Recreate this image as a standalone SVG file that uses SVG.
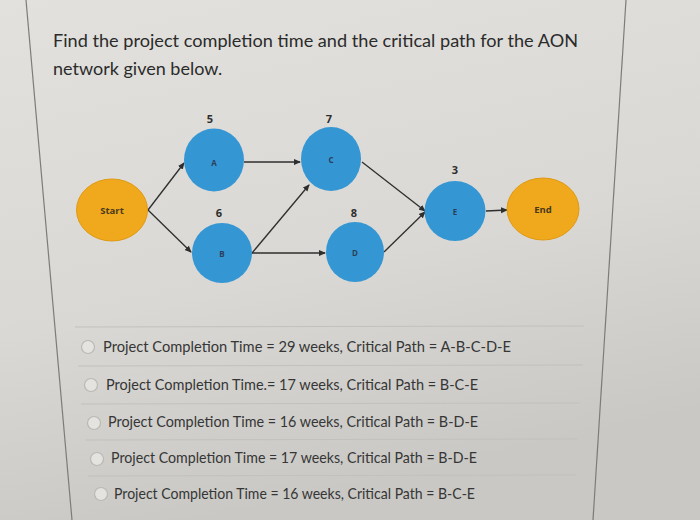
<svg xmlns="http://www.w3.org/2000/svg" width="700" height="520" viewBox="0 0 700 520">
<defs>
<linearGradient id="bg" x1="0" y1="0" x2="0.3" y2="1">
<stop offset="0" stop-color="#e2e1dd"/>
<stop offset="0.6" stop-color="#d9d8d4"/>
<stop offset="1" stop-color="#c9c8c4"/>
</linearGradient>
<marker id="arr" markerWidth="7" markerHeight="7" refX="6" refY="3.5" orient="auto" markerUnits="userSpaceOnUse">
<path d="M0,0.5 L7,3.5 L0,6.5 Z" fill="#2e2e2e"/>
</marker>
<style>
.title{font-family:Lato,"Liberation Sans",sans-serif;font-size:18px;fill:#2b2b2b}
.opt{font-family:Lato,"Liberation Sans",sans-serif;font-size:15px;fill:#363636}
.act{fill:#3596d4}
.term{fill:#f0a81c;stroke:#e09a14;stroke-width:1}
.lbl{font-family:"Open Sans","Liberation Sans",sans-serif;font-weight:bold;font-size:8px;fill:#2c3e5a;text-anchor:middle}
.tlbl{font-family:"Open Sans","Liberation Sans",sans-serif;font-weight:bold;font-size:9.5px;fill:#4a3a1e;text-anchor:middle}
.dur{font-family:"Open Sans","Liberation Sans",sans-serif;font-weight:bold;font-size:11px;fill:#2e2e2e;text-anchor:middle}
.edge{stroke:#2e2e2e;stroke-width:1.3;fill:none;marker-end:url(#arr)}
.sep{stroke:#c2c1bd;stroke-width:1}
.radio{fill:#e4e3df;stroke:#b9b8b4;stroke-width:1.2}
.border{stroke:#7d7c78;stroke-width:1.2;fill:none}
</style>
</defs>
<rect width="700" height="520" fill="url(#bg)"/>
<line class="border" x1="26" y1="0" x2="72" y2="520"/>
<line class="border" x1="626" y1="0" x2="593" y2="520"/>

<text class="title" x="53" y="47" textLength="525" lengthAdjust="spacingAndGlyphs">Find the project completion time and the critical path for the AON</text>
<text class="title" x="53" y="75">network given below.</text>

<g id="connectors">
<line class="edge" x1="148" y1="210" x2="184" y2="163"/>
<line class="edge" x1="148" y1="210" x2="191" y2="252"/>
<line class="edge" x1="244" y1="162" x2="300" y2="162"/>
<line class="edge" x1="252" y1="253" x2="309" y2="185"/>
<line class="edge" x1="252" y1="253" x2="325" y2="253"/>
<line class="edge" x1="362" y1="162" x2="425" y2="211"/>
<line class="edge" x1="384" y1="252" x2="425" y2="212"/>
<line class="edge" x1="486" y1="211" x2="507" y2="210"/>
</g>

<g id="node-start">
<ellipse class="term" cx="112" cy="210" rx="35.5" ry="31"/>
<text class="tlbl" x="112" y="213.5">Start</text>
</g>
<g id="node-a">
<ellipse class="act" cx="214" cy="160" rx="30" ry="31.5"/>
<text class="lbl" x="214" y="166">A</text>
<text class="dur" x="210" y="123">5</text>
</g>
<g id="node-b">
<ellipse class="act" cx="222" cy="253" rx="30" ry="30"/>
<text class="lbl" x="222" y="257">B</text>
<text class="dur" x="219" y="217">6</text>
</g>
<g id="node-c">
<ellipse class="act" cx="331" cy="159" rx="30" ry="32"/>
<text class="lbl" x="331" y="163">C</text>
<text class="dur" x="329" y="123">7</text>
</g>
<g id="node-d">
<ellipse class="act" cx="355" cy="252" rx="29" ry="30"/>
<text class="lbl" x="355" y="256">D</text>
<text class="dur" x="354" y="217">8</text>
</g>
<g id="node-e">
<ellipse class="act" cx="455" cy="211" rx="30.5" ry="30"/>
<text class="lbl" x="455" y="215">E</text>
<text class="dur" x="455" y="174">3</text>
</g>
<g id="node-end">
<ellipse class="term" cx="543" cy="209" rx="36" ry="31"/>
<text class="tlbl" x="543" y="212.5">End</text>
</g>

<line class="sep" x1="75" y1="327" x2="584" y2="326"/>
<line class="sep" x1="78" y1="366" x2="583" y2="365"/>
<line class="sep" x1="81" y1="404" x2="580" y2="403"/>
<line class="sep" x1="85" y1="440" x2="578" y2="439"/>
<line class="sep" x1="88" y1="476" x2="576" y2="475"/>

<g id="options">
<circle class="radio" cx="88" cy="347" r="6.5"/>
<text class="opt" x="103" y="352" textLength="408" lengthAdjust="spacingAndGlyphs">Project Completion Time = 29 weeks, Critical Path = A-B-C-D-E</text>
<circle class="radio" cx="91" cy="385" r="6.5"/>
<text class="opt" x="106" y="390" textLength="372" lengthAdjust="spacingAndGlyphs">Project Completion Time.= 17 weeks, Critical Path = B-C-E</text>
<circle class="radio" cx="94" cy="423" r="6.5"/>
<text class="opt" x="108" y="427" textLength="370" lengthAdjust="spacingAndGlyphs">Project Completion Time = 16 weeks, Critical Path = B-D-E</text>
<circle class="radio" cx="97" cy="459" r="6.5"/>
<text class="opt" x="111" y="463" textLength="366" lengthAdjust="spacingAndGlyphs">Project Completion Time = 17 weeks, Critical Path = B-D-E</text>
<circle class="radio" cx="101" cy="494" r="6.5"/>
<text class="opt" x="114" y="499" textLength="361" lengthAdjust="spacingAndGlyphs">Project Completion Time = 16 weeks, Critical Path = B-C-E</text>
</g>
</svg>
